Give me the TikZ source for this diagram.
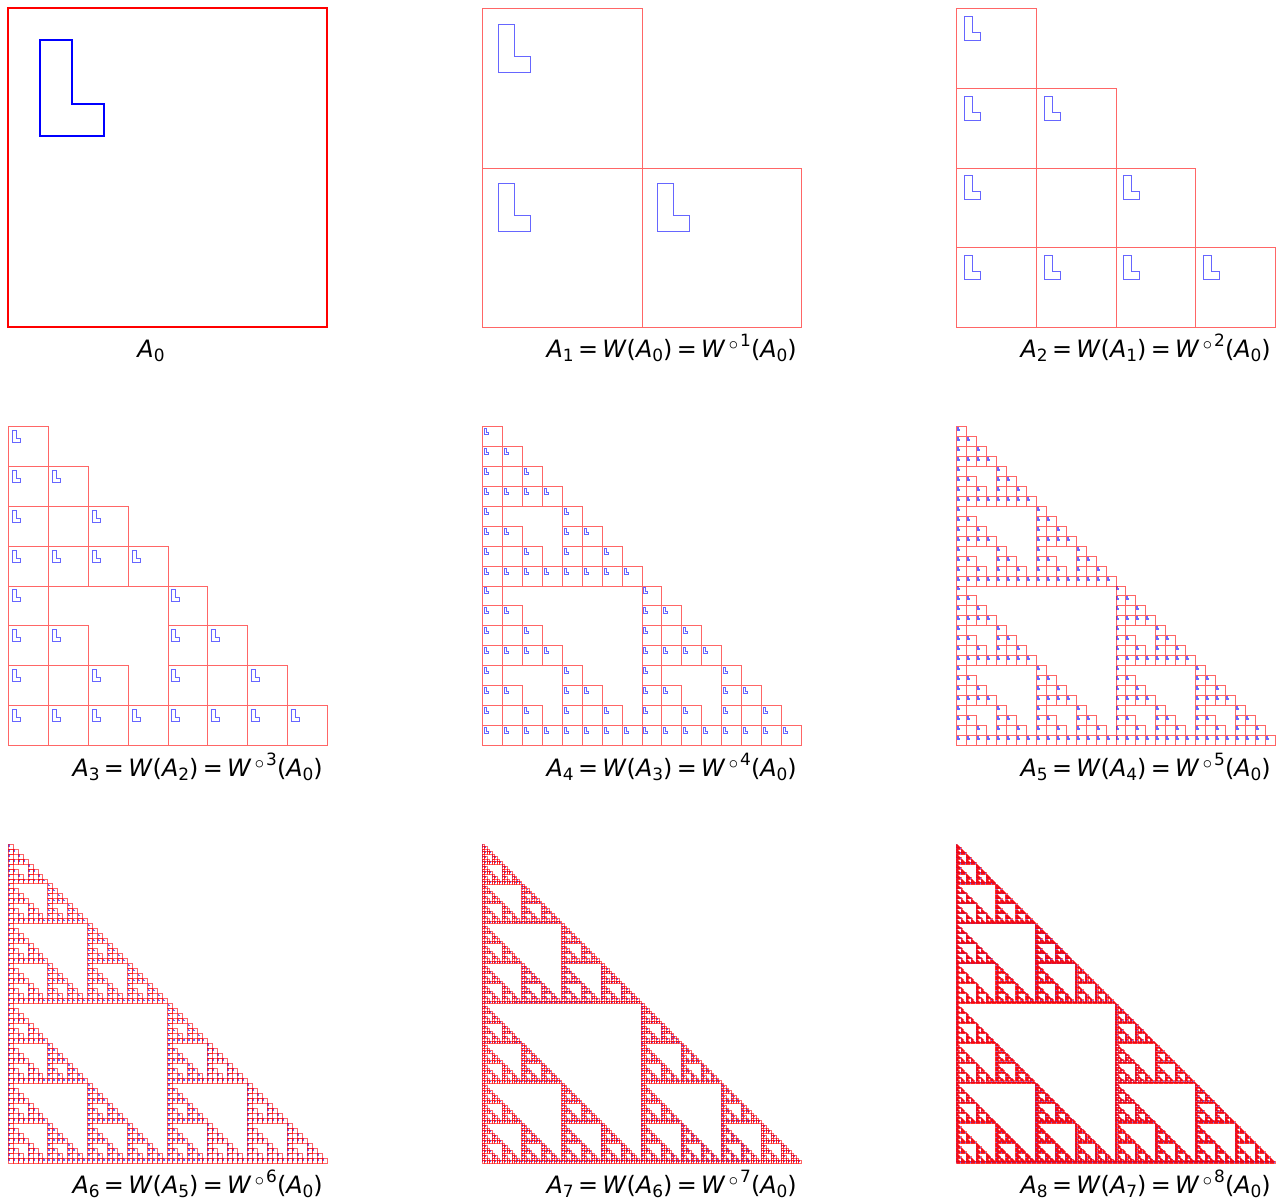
\documentclass[tikz,border=0pt]{standalone}
\usepackage{fontspec}
\newfontfamily\dv{DejaVu Sans}
\tikzset{
  thickred/.style={draw=red, line width=1.8bp},
  thickblue/.style={draw=blue, line width=1.8bp},
  lbl/.style={font=\dv\fontsize{24}{28}\selectfont, inner sep=0pt, text=black}
}
% --- recursion over the cells: #1 leaf macro, #2 size, #3 column, #4 row (from bottom)
\def\sierpR#1#2#3#4{%
  \ifnum#2=1 #1{#3}{#4}\else
    \expandafter\sierpH\expandafter#1\expandafter{\the\numexpr#2/2\relax}{#3}{#4}%
  \fi}
\def\sierpH#1#2#3#4{%
  \sierpR#1{#2}{#3}{\the\numexpr#4+#2\relax}%
  \sierpR#1{#2}{#3}{#4}%
  \sierpR#1{#2}{\the\numexpr#3+#2\relax}{#4}}
% --- pixel-snapped cell coordinates (panel: \PN cells, left \PX, top \PY)
\newcommand\pixcoords[2]{%
  \edef\mycol{\the\numexpr#1\relax}%
  \edef\myrow{\the\numexpr\PN-1-(#2)\relax}%
  \edef\xl{\the\numexpr\PX+(319*\mycol)/\PN\relax}%
  \edef\xr{\the\numexpr\PX+(319*(\mycol+1))/\PN\relax}%
  \edef\yt{\the\numexpr\PY+(319*\myrow)/\PN\relax}%
  \edef\yb{\the\numexpr\PY+(319*(\myrow+1))/\PN\relax}%
  \edef\lxa{\the\numexpr\PX+(319*(10*\mycol+1))/(10*\PN)\relax}%
  \edef\lxb{\the\numexpr\PX+(319*(10*\mycol+2))/(10*\PN)\relax}%
  \edef\lxc{\the\numexpr\PX+(319*(10*\mycol+3))/(10*\PN)\relax}%
  \edef\lya{\the\numexpr\PY+(319*(10*\myrow+1))/(10*\PN)\relax}%
  \edef\lyb{\the\numexpr\PY+(319*(10*\myrow+3))/(10*\PN)\relax}%
  \edef\lyc{\the\numexpr\PY+(319*(10*\myrow+4))/(10*\PN)\relax}}
\newcommand\pixrect[2]{\pixcoords{#1}{#2}%
  \pgfpathrectanglecorners{\pgfpoint{\xl.5bp}{-\yt.5bp}}{\pgfpoint{\xr.5bp}{-\yb.5bp}}}
\newcommand\pixL[2]{\pixcoords{#1}{#2}%
  \pgfpathmoveto{\pgfpoint{\lxa.5bp}{-\lya.5bp}}%
  \pgfpathlineto{\pgfpoint{\lxb.5bp}{-\lya.5bp}}%
  \pgfpathlineto{\pgfpoint{\lxb.5bp}{-\lyb.5bp}}%
  \pgfpathlineto{\pgfpoint{\lxc.5bp}{-\lyb.5bp}}%
  \pgfpathlineto{\pgfpoint{\lxc.5bp}{-\lyc.5bp}}%
  \pgfpathlineto{\pgfpoint{\lxa.5bp}{-\lyc.5bp}}%
  \pgfpathclose}
\makeatletter
% --- compact low-level drawing for the finest levels (10 units per cell)
\newcommand\redleaf[2]{\pgfsys@invoke{1 0 0 RG \the\numexpr10*(#1)\relax\space\the\numexpr10*(#2)\relax\space 10 10 re S}}
\newcommand\blueleaf[2]{%
  \edef\myLxa{\the\numexpr10*(#1)+1\relax}%
  \edef\myLxb{\the\numexpr10*(#1)+2\relax}%
  \edef\myLxc{\the\numexpr10*(#1)+3\relax}%
  \edef\myLya{\the\numexpr10*(#2)+9\relax}%
  \edef\myLyb{\the\numexpr10*(#2)+7\relax}%
  \edef\myLyc{\the\numexpr10*(#2)+6\relax}%
  \pgfsys@invoke{0 0 1 RG \myLxa\space\myLya\space m \myLxb\space\myLya\space l \myLxb\space\myLyb\space l \myLxc\space\myLyb\space l \myLxc\space\myLyc\space l \myLxa\space\myLyc\space l h S}}
\newcommand\drawpanel[3]{%
  \begin{pgfscope}%
  \pgfsetstrokeopacity{0.6}%
  \pgfsetstrokecolor{red}%
  \pgfsysprotocol@invokecurrentprotocol
  \pgfmathsetmacro\myunit{319/(10*#1)}%
  \pgfmathsetmacro\mylw{0.8/\myunit}%
  \pgfsys@invoke{q \myunit\space 0 0 \myunit\space #2 #3 cm \mylw\space w 0 J 0 j}%
  \sierpR\blueleaf{#1}{0}{0}%
  \sierpR\redleaf{#1}{0}{0}%
  \pgfsys@invoke{Q}%
  \end{pgfscope}}
\makeatother
\newcommand\sbs[1]{\raisebox{-0.2em}{\fontsize{17}{17}\selectfont#1}}
\newcommand\sps[1]{\raisebox{0.42em}{\fontsize{17}{17}\selectfont#1}}
\newcommand\ringsup{\kern0.02em\raisebox{0.1em}{\fontsize{25}{25}\selectfont ◦}\kern-0.02em}
\newcommand\eq{\hspace{0.18em}=\hspace{0.18em}}
\newcommand\eqlabel[2]{\textit{A}\sbs{#1}\eq\textit{W}(\textit{A}\sbs{#2})\eq\textit{W}\ringsup\sps{#1}(\textit{A}\sbs{0})}
\begin{document}
\begin{tikzpicture}[x=1bp,y=1bp]
\useasboundingbox (0,0) rectangle (1286,-1199);
% panel A0
\begin{scope}[shift={(8,-327)},scale=319]
  \draw[thickblue] (0.1,0.9) -- (0.2,0.9) -- (0.2,0.7) -- (0.3,0.7) -- (0.3,0.6) -- (0.1,0.6) -- cycle;
  \draw[thickred] (0,0) rectangle (1,1);
\end{scope}
\node[lbl, anchor=base] (l0) at (151,-357) {\textit{A}\sbs{0}};
% panels A1 ... A5 (pixel-snapped, one path per colour)
\foreach \PN/\PX/\PY in {2/482/8,4/956/8,8/8/426,16/482/426,32/956/426}{
  \begin{pgfscope}
    \pgfsetlinewidth{1bp}\pgfsetstrokecolor{blue}\pgfsetstrokeopacity{0.6}
    \sierpR\pixL{\PN}{0}{0}
    \pgfusepath{stroke}
  \end{pgfscope}
  \begin{pgfscope}
    \pgfsetlinewidth{1bp}\pgfsetstrokecolor{red}\pgfsetstrokeopacity{0.6}
    \sierpR\pixrect{\PN}{0}{0}
    \pgfusepath{stroke}
  \end{pgfscope}
}
% panels A6, A7, A8
\drawpanel{64}{8}{-1163}
\drawpanel{128}{482}{-1163}
\drawpanel{256}{956}{-1163}
\node[lbl, anchor=base east] (l1) at (797,-357) {\eqlabel{1}{0}};
\node[lbl, anchor=base east] (l2) at (1271,-357) {\eqlabel{2}{1}};
\node[lbl, anchor=base east] (l3) at (323,-776) {\eqlabel{3}{2}};
\node[lbl, anchor=base east] (l4) at (797,-776) {\eqlabel{4}{3}};
\node[lbl, anchor=base east] (l5) at (1271,-776) {\eqlabel{5}{4}};
\node[lbl, anchor=base east] (l6) at (323,-1193) {\eqlabel{6}{5}};
\node[lbl, anchor=base east] (l7) at (797,-1193) {\eqlabel{7}{6}};
\node[lbl, anchor=base east] (l8) at (1271,-1193) {\eqlabel{8}{7}};
\end{tikzpicture}
\end{document}
